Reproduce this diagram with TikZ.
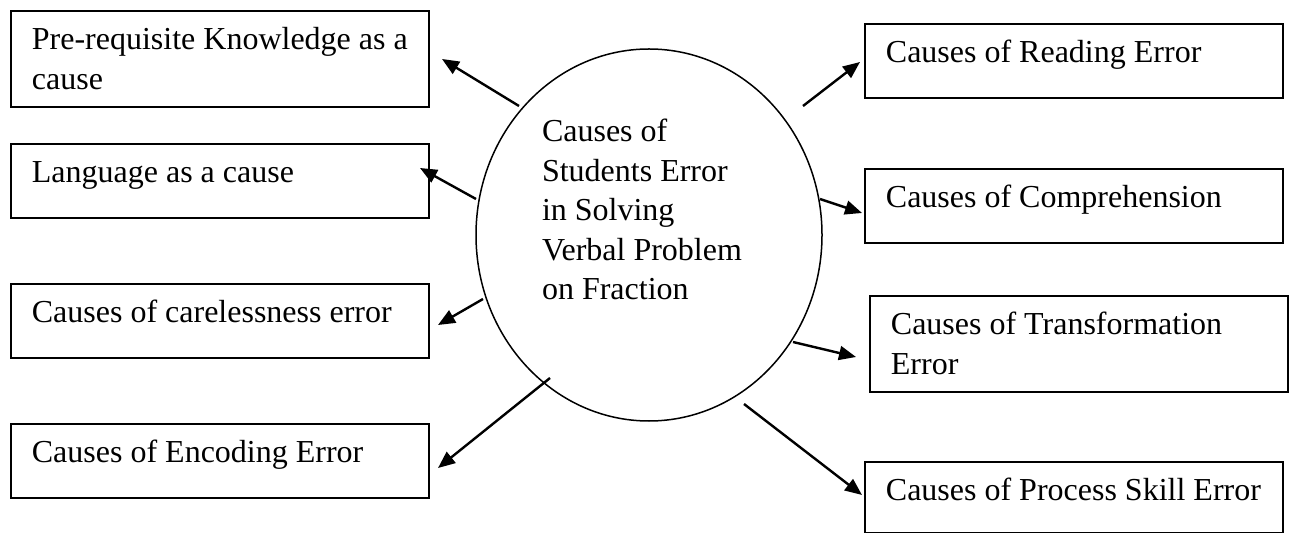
\documentclass[tikz,border=0pt]{standalone}
\usepackage{fontspec}
\setmainfont{Liberation Serif}
\usetikzlibrary{arrows.meta,shapes.geometric}

\begin{document}
\begin{tikzpicture}[
  x=0.5pt, y=-0.5pt,
  font=\fontsize{16pt}{19.75pt}\selectfont,
  cause/.style={draw, line width=0.9pt, anchor=north west, align=flush left,
                text width=188pt, inner xsep=10.5pt, inner ysep=5.5pt,
                text height=14pt, text depth=12pt},
  hub/.style={draw, ellipse, line width=0.75pt, minimum width=173pt,
              minimum height=186pt, inner sep=0pt, align=flush left,
              text width=107pt, text height=11pt, text depth=104pt},
  fl/.style={-{Triangle[length=8.5pt, width=7pt]}, line width=1.2pt}
]
\useasboundingbox (0,0) rectangle (1293,533);

\node[hub] (core) at (649,235) {Causes of\\Students Error\\in Solving\\Verbal Problem\\on Fraction};

\node[cause, text depth=23pt] (pk) at (10,10) {Pre-requisite Knowledge as a\\cause};
\node[cause] (lang) at (10,143) {Language as a cause};
\node[cause] (care) at (10,283) {Causes of carelessness error};
\node[cause] (enc) at (10,423) {Causes of Encoding Error};

\node[cause] (read) at (864,23) {Causes of Reading Error};
\node[cause] (comp) at (864,168) {Causes of Comprehension};
\node[cause, text depth=23pt] (trans) at (869,295) {Causes of Transformation\\Error};
\node[cause, text depth=10.5pt] (proc) at (864,461) {Causes of Process Skill Error};

% arrow ends
\coordinate (s1) at (519,106); \coordinate (t1) at (442,59);
\coordinate (s2) at (476,199); \coordinate (t2) at (420,168);
\coordinate (s3) at (483,299); \coordinate (t3) at (438,325);
\coordinate (s4) at (550,378); \coordinate (t4) at (438,468);
\coordinate (s5) at (803,106); \coordinate (t5) at (860,62);
\coordinate (s6) at (820,199); \coordinate (t6) at (862,213);
\coordinate (s7) at (793,342); \coordinate (t7) at (856,357);
\coordinate (s8) at (744,404); \coordinate (t8) at (862,495);

\foreach \a/\b in {s1/t1, s2/t2, s3/t3, s4/t4, s5/t5, s6/t6, s7/t7, s8/t8}
  \draw[fl] (\a) -- (\b);
\end{tikzpicture}
\end{document}
